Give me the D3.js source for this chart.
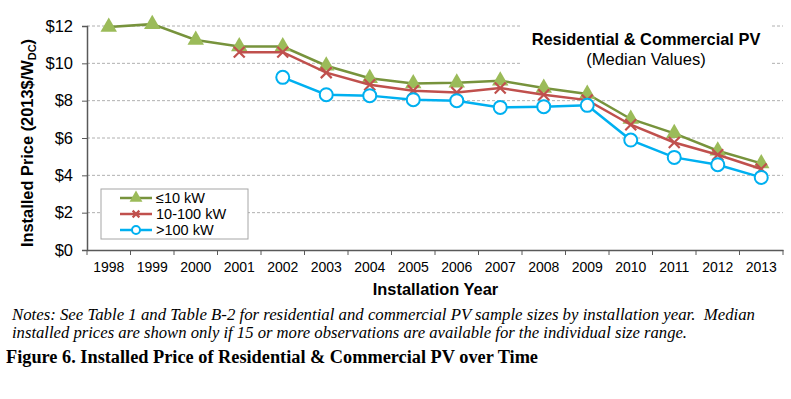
<!DOCTYPE html>
<html>
<head>
<meta charset="utf-8">
<script src="https://cdn.jsdelivr.net/npm/d3@7"></script>
<style>
  body { margin: 0; background: #fff; }
  svg { display: block; }
</style>
</head>
<body>
<svg id="chart" width="791" height="399"></svg>
<script>
// Installation years (categories)
var years = ['1998','1999','2000','2001','2002','2003','2004','2005',
             '2006','2007','2008','2009','2010','2011','2012','2013'];

// Median installed price by size range (null = fewer than 15 observations)
var small = [11.95, 12.1, 11.25, 10.9, 10.9, 9.87, 9.2, 8.92,
             8.96, 9.07, 8.68, 8.36, 7.02, 6.25, 5.32, 4.64];
var medium = [null, null, null, 10.6, 10.6, 9.5, 8.85, 8.53,
              8.44, 8.68, 8.32, 8.03, 6.71, 5.76, 5.1, 4.34];
var large = [null, null, null, null, 9.25, 8.32, 8.27, 8.05,
             8.0, 7.64, 7.68, 7.75, 5.89, 4.96, 4.57, 3.89];

// Y-axis tick values
var yTicks = [0, 2, 4, 6, 8, 10, 12];

var seriesNames = ['\u226410 kW', '10-100 kW', '>100 kW'];

var sans = 'Liberation Sans, Arial, sans-serif',
    serif = 'Liberation Serif, Times New Roman, serif';

var svg = d3.select('#chart');

// Plot area
var margin = { left: 87, right: 8, top: 26, bottom: 149 },
    width = 791 - margin.left - margin.right,
    height = 399 - margin.top - margin.bottom;

var xScale = d3.scaleBand().domain(years).range([0, width]);
var yScale = d3.scaleLinear().domain([0, 12]).range([height, 0]);

var g = svg.append('g')
    .attr('transform', 'translate(' + margin.left + ',' + margin.top + ')');

// Dashed grid lines
g.append('g').selectAll('line')
    .data(yTicks.filter(function(d) { return d > 0; }))
    .enter()
    .append('line')
    .attr('x1', 0)
    .attr('x2', width)
    .attr('y1', function(d) { return yScale(d); })
    .attr('y2', function(d) { return yScale(d); })
    .attr('stroke', '#b0b0b0')
    .attr('stroke-width', 1)
    .attr('stroke-dasharray', '3,2');

// Title box hides the grid behind it
var title = g.append('g');
title.append('rect')
    .attr('x', 433)
    .attr('y', -8)
    .attr('width', 252)
    .attr('height', 52)
    .attr('fill', '#fff');
title.append('text')
    .attr('x', 559)
    .attr('y', 19)
    .attr('text-anchor', 'middle')
    .attr('font-family', sans)
    .attr('font-weight', 'bold')
    .attr('font-size', '16.4px')
    .text('Residential & Commercial PV');
title.append('text')
    .attr('x', 559)
    .attr('y', 39)
    .attr('text-anchor', 'middle')
    .attr('font-family', sans)
    .attr('font-size', '16.6px')
    .text('(Median Values)');

// Y axis
var yAxis = g.append('g')
    .call(d3.axisLeft(yScale)
        .tickValues(yTicks)
        .tickSize(5)
        .tickPadding(9)
        .tickFormat(function(d) { return '$' + d; }));
yAxis.select('.domain').attr('stroke', '#595959').attr('stroke-width', 1.5);
yAxis.selectAll('.tick line').attr('stroke', '#595959');
yAxis.selectAll('.tick text')
    .attr('font-family', sans)
    .attr('font-size', '16.5px')
    .attr('fill', '#000');

// X axis with ticks at the category boundaries
var xAxis = g.append('g')
    .attr('transform', 'translate(0,' + height + ')')
    .call(d3.axisBottom(xScale).tickSize(0).tickPadding(12));
xAxis.select('.domain').attr('stroke', '#595959').attr('stroke-width', 1.5);
xAxis.selectAll('.tick text')
    .attr('font-family', sans)
    .attr('font-size', '14px')
    .attr('fill', '#000');
xAxis.selectAll('line.bound')
    .data(d3.range(years.length + 1))
    .enter()
    .append('line')
    .classed('bound', true)
    .attr('x1', function(i) { return i * xScale.step(); })
    .attr('x2', function(i) { return i * xScale.step(); })
    .attr('y1', 0)
    .attr('y2', 5)
    .attr('stroke', '#595959');

// Axis titles
svg.append('text')
    .attr('x', 435.5)
    .attr('y', 295)
    .attr('text-anchor', 'middle')
    .attr('font-family', sans)
    .attr('font-weight', 'bold')
    .attr('font-size', '16.4px')
    .text('Installation Year');

var yTitle = svg.append('text')
    .attr('transform', 'translate(33,143) rotate(-90)')
    .attr('text-anchor', 'middle')
    .attr('font-family', sans)
    .attr('font-weight', 'bold')
    .attr('font-size', '16.4px');
yTitle.append('tspan').text('Installed Price (2013$/W');
yTitle.append('tspan').attr('font-size', '11px').attr('dy', 3).text('DC');
yTitle.append('tspan').attr('dy', -3).text(')');

// Series definitions
var series = [
    { name: seriesNames[0], values: small, line: '#77933C', marker: 'triangle', fill: '#9BBB59' },
    { name: seriesNames[1], values: medium, line: '#C0504D', marker: 'cross', fill: '#C0504D' },
    { name: seriesNames[2], values: large, line: '#00B0F0', marker: 'circle', fill: '#00B0F0' }
];

// Draws a marker of the given type into a selection
function drawMarker(sel, s, size) {
    if (s.marker == 'triangle') {
        sel.append('path')
            .attr('d', d3.symbol().type(d3.symbolTriangle).size(size * 9)())
            .attr('fill', s.fill);
    } else if (s.marker == 'cross') {
        var r = size * 0.42;
        sel.append('path')
            .attr('d', 'M' + -r + ',' + -r + 'L' + r + ',' + r + 'M' + -r + ',' + r + 'L' + r + ',' + -r)
            .attr('stroke', s.fill)
            .attr('stroke-width', 2.2)
            .attr('fill', 'none');
    } else {
        sel.append('circle')
            .attr('r', size * 0.5)
            .attr('fill', '#fff')
            .attr('stroke', s.fill)
            .attr('stroke-width', 2);
    }
}

var line = d3.line()
    .defined(function(d) { return d.v != null; })
    .x(function(d) { return xScale(d.year) + xScale.bandwidth() / 2; })
    .y(function(d) { return yScale(d.v); });

series.forEach(function(s) {
    var pts = years.map(function(y, i) { return { year: y, v: s.values[i] }; });
    g.append('path')
        .datum(pts)
        .attr('d', line)
        .attr('fill', 'none')
        .attr('stroke', s.line)
        .attr('stroke-width', 2.5);
    g.selectAll(null)
        .data(pts.filter(function(d) { return d.v != null; }))
        .enter()
        .append('g')
        .attr('transform', function(d) {
            return 'translate(' + (xScale(d.year) + xScale.bandwidth() / 2) + ',' + yScale(d.v) + ')';
        })
        .each(function() { drawMarker(d3.select(this), s, 13); });
});

// Legend
var legend = svg.append('g').attr('transform', 'translate(101,189)');
legend.append('rect')
    .attr('width', 147)
    .attr('height', 50)
    .attr('fill', '#fff')
    .attr('stroke', '#a6a6a6');
series.forEach(function(s, i) {
    var row = legend.append('g').attr('transform', 'translate(0,' + (9 + i * 16) + ')');
    row.append('line')
        .attr('x1', 19).attr('x2', 51)
        .attr('stroke', s.line)
        .attr('stroke-width', 2.5);
    var m = row.append('g').attr('transform', 'translate(35,0)');
    drawMarker(m, s, 8);
    row.append('text')
        .attr('x', 55)
        .attr('y', 5)
        .attr('font-family', sans)
        .attr('font-size', '14.5px')
        .text(s.name);
});

// Notes and figure caption
var notes = svg.append('text')
    .attr('font-family', serif)
    .attr('font-style', 'italic')
    .attr('font-size', '16px')
    .style('white-space', 'pre');
notes.append('tspan').attr('x', 12).attr('y', 320)
    .attr('textLength', 743)
    .attr('lengthAdjust', 'spacingAndGlyphs')
    .text('Notes: See Table 1 and Table B-2 for residential and commercial PV sample sizes by installation year.  Median');
notes.append('tspan').attr('x', 12).attr('y', 338)
    .attr('textLength', 675)
    .attr('lengthAdjust', 'spacingAndGlyphs')
    .text('installed prices are shown only if 15 or more observations are available for the individual size range.');

svg.append('text')
    .attr('x', 6)
    .attr('y', 363)
    .attr('font-family', serif)
    .attr('font-weight', 'bold')
    .attr('font-size', '18.5px')
    .attr('textLength', 532)
    .attr('lengthAdjust', 'spacingAndGlyphs')
    .text('Figure 6. Installed Price of Residential & Commercial PV over Time');
</script>
</body>
</html>
